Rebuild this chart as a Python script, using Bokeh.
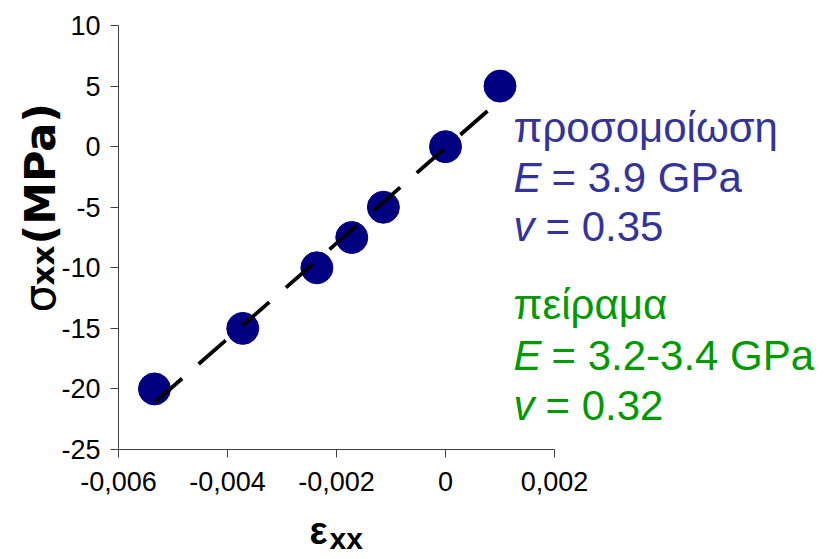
from math import pi
from bokeh.plotting import figure
from bokeh.models import Range1d, FixedTicker, Label, LinearAxis
from bokeh.embed import file_html
from bokeh.resources import INLINE

# ---- data ----
strain = [-0.00534, -0.00372, -0.00236, -0.00172, -0.00114, 0.0, 0.001]
stress = [-20, -15, -10, -7.5, -5, 0, 5]
line_strain = [-0.00533, 0.00085]
line_stress = [-21.1, 3.26]
x_ticks = [-0.006, -0.004, -0.002, 0.0, 0.002]
x_tick_labels = ["-0,006", "-0,004", "-0,002", "0", "0,002"]
y_ticks = [-25, -20, -15, -10, -5, 0, 5, 10]
y_tick_labels = ["-25", "-20", "-15", "-10", "-5", "0", "5", "10"]
sim_title = "προσομοίωση"
sim_E = "= 3.9 GPa"
sim_v = "= 0.35"
exp_title = "πείραμα"
exp_E = "= 3.2-3.4 GPa"
exp_v = "= 0.32"

# ---- layout: the frame covers the whole page, axes are pinned ----
W, H = 825, 559
AX_X, AX_Y = 118, 449      # pixel position of the axes crossing (-0.006, -25)
XPX = 54500.0              # px per unit strain
YPX = 12.114               # px per MPa
xs = -0.006 - AX_X / XPX
xe = -0.006 + (W - AX_X) / XPX
ys = -25 - (H - AX_Y) / YPX
ye = -25 + AX_Y / YPX

def dx(px):
    return xs + px / XPX

def dy(py):
    return ys + (H - py) / YPX

p = figure(width=W, height=H, output_backend="svg", toolbar_location=None,
           x_range=Range1d(xs, xe), y_range=Range1d(ys, ye),
           x_axis_location=None, y_axis_location=None,
           min_border=0)
p.outline_line_color = None
p.xgrid.visible = False
p.ygrid.visible = False
p.background_fill_color = "white"
p.border_fill_color = "white"

FONT = "Liberation Sans"
xaxis = LinearAxis(fixed_location=-25)
yaxis = LinearAxis(fixed_location=-0.006)
for ax, ticks, labels, b in ((xaxis, x_ticks, x_tick_labels, (-0.006, 0.002)),
                             (yaxis, y_ticks, y_tick_labels, (-25, 10))):
    ax.ticker = FixedTicker(ticks=ticks)
    ax.major_label_overrides = {t: l for t, l in zip(ticks, labels)}
    ax.bounds = b
    ax.minor_tick_line_color = None
    ax.major_tick_in = 0
    ax.major_tick_out = 8
    ax.axis_line_color = "#404040"
    ax.major_tick_line_color = "#404040"
    ax.major_label_text_font = FONT
    ax.major_label_text_font_size = "27px"
    ax.major_label_text_color = "black"
xaxis.major_label_standoff = 14
yaxis.major_label_standoff = 10
p.add_layout(xaxis, "below")
p.add_layout(yaxis, "left")

p.scatter(strain, stress, size=32, color="#000080", line_color="#000080")
p.line(line_strain, line_stress, line_dash="36 22", line_width=3.8, color="black")

BLUE = "#333399"
GREEN = "#009900"
FS = 42

def lab(text, px, py, color, style="normal", size=FS, **kw):
    """Left/baseline aligned label at pixel (px, py) of the page."""
    p.add_layout(Label(x=dx(px), y=dy(py - 0.3 * size), text=text, text_color=color,
                       text_font=FONT, text_font_style=style,
                       text_font_size=f"{size}px",
                       text_baseline="alphabetic", text_align="left", **kw))

TX = 513
lab(sim_title, TX, 140, BLUE)
lab("E", TX, 190, BLUE, "italic")
lab(sim_E, TX + 38, 190, BLUE)
lab("v", TX, 239, BLUE, "italic")
lab(sim_v, TX + 32, 239, BLUE)
lab(exp_title, TX, 317, GREEN)
lab("E", TX, 368, GREEN, "italic")
lab(exp_E, TX + 38, 368, GREEN)
lab("v", TX, 418, GREEN, "italic")
lab(exp_v, TX + 32, 418, GREEN)

# x-axis title
lab("ε", 309, 542, "black", "bold", 38)
lab("xx", 329, 547, "black", "bold", 30)

# y-axis title (rotated, drawn upward from the bottom end)
def vlab(text, px, py, style, size):
    p.add_layout(Label(x=dx(px), y=dy(py), text=text, text_color="black",
                       text_font="DejaVu Sans", text_font_style=style,
                       text_font_size=f"{size}px", angle=pi / 2,
                       text_baseline="middle", text_align="left"))

vlab("σ", 39, 312, "normal", 44)
vlab("xx", 42, 285, "bold", 31)
vlab("(MPa)", 39, 244, "bold", 43)

open("out.html", "w").write(file_html(p, INLINE))
